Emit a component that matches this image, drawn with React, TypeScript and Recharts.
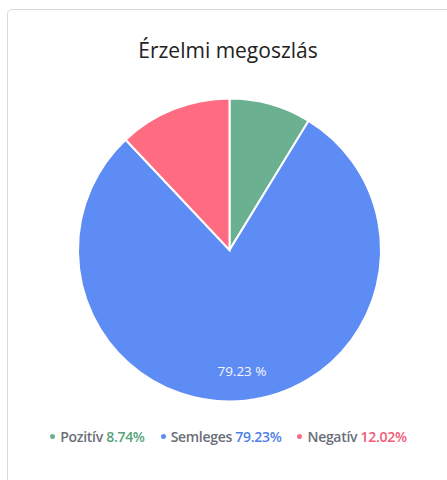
import { PieChart, Pie, Cell, Legend } from 'recharts'

const categories = ['Pozitív', 'Semleges', 'Negatív']
const shares = [8.74, 79.23, 12.02]
const colors = ['#6bb091', '#5e8cf5', '#ff6b81']
const valueColors = ['#55a37c', '#4f7fe6', '#f05c76']

const data = categories.map((name, i) => ({ name, value: shares[i] }))

const RADIAN = Math.PI / 180

const renderLabel = (props: any) => {
  const { cx, cy, midAngle, outerRadius, percent, value } = props
  // only the big slice gets a label in the original
  if (percent < 0.15) return null
  const r = outerRadius * 0.8
  const x = cx + r * Math.cos(-midAngle * RADIAN)
  const y = cy + r * Math.sin(-midAngle * RADIAN)
  return (
    <text
      x={x}
      y={y}
      fill="#f4f6ff"
      fontSize={13.5}
      fontFamily="'Open Sans', sans-serif"
      textAnchor="middle"
      dominantBaseline="central"
    >
      {`${value.toFixed(2)} %`}
    </text>
  )
}

const renderLegend = () => (
  <div
    style={{
      display: 'flex',
      justifyContent: 'center',
      gap: 16,
      fontFamily: "'Open Sans', sans-serif",
      fontSize: 14,
      fontWeight: 600,
      letterSpacing: -0.3,
      color: '#6a6e78',
    }}
  >
    {data.map((d, i) => (
      <span key={d.name} style={{ display: 'flex', alignItems: 'center' }}>
        <span
          style={{
            width: 5,
            height: 5,
            borderRadius: '50%',
            background: colors[i],
            marginRight: 5,
          }}
        />
        {d.name}&nbsp;
        <span style={{ color: valueColors[i] }}>{`${d.value.toFixed(2)}%`}</span>
      </span>
    ))}
  </div>
)

export default function App() {
  return (
    <div
      style={{
        position: 'fixed',
        left: 0,
        top: 0,
        width: 447,
        height: 480,
        overflow: 'hidden',
        background: '#fff',
      }}
    >
      <div
        style={{
          position: 'absolute',
          left: 7,
          top: 9,
          width: 470,
          height: 500,
          border: '1px solid #d9d9d9',
          borderRadius: 5,
          boxSizing: 'border-box',
        }}
      />
      <div
        style={{
          position: 'absolute',
          left: 0,
          top: 35,
          width: 456,
          textAlign: 'center',
          fontFamily: "'Open Sans', sans-serif",
          fontSize: 21,
          fontWeight: 500,
          lineHeight: '30px',
          color: '#222',
        }}
      >
        Érzelmi megoszlás
      </div>
      <div style={{ position: 'absolute', left: 0, top: 0 }}>
        <PieChart
          width={447}
          height={480}
          margin={{ top: 0, right: 0, bottom: 0, left: 0 }}
        >
          <Pie
            data={data}
            dataKey="value"
            nameKey="name"
            cx={229.5}
            cy={250}
            outerRadius={151.5}
            startAngle={90}
            endAngle={-270}
            stroke="#fff"
            strokeWidth={2}
            labelLine={false}
            label={renderLabel}
            isAnimationActive={false}
          >
            {data.map((d, i) => (
              <Cell key={d.name} fill={colors[i]} />
            ))}
          </Pie>
          <Legend
            content={renderLegend}
            wrapperStyle={{ top: 427, left: 0, width: 457 }}
          />
        </PieChart>
      </div>
    </div>
  )
}
